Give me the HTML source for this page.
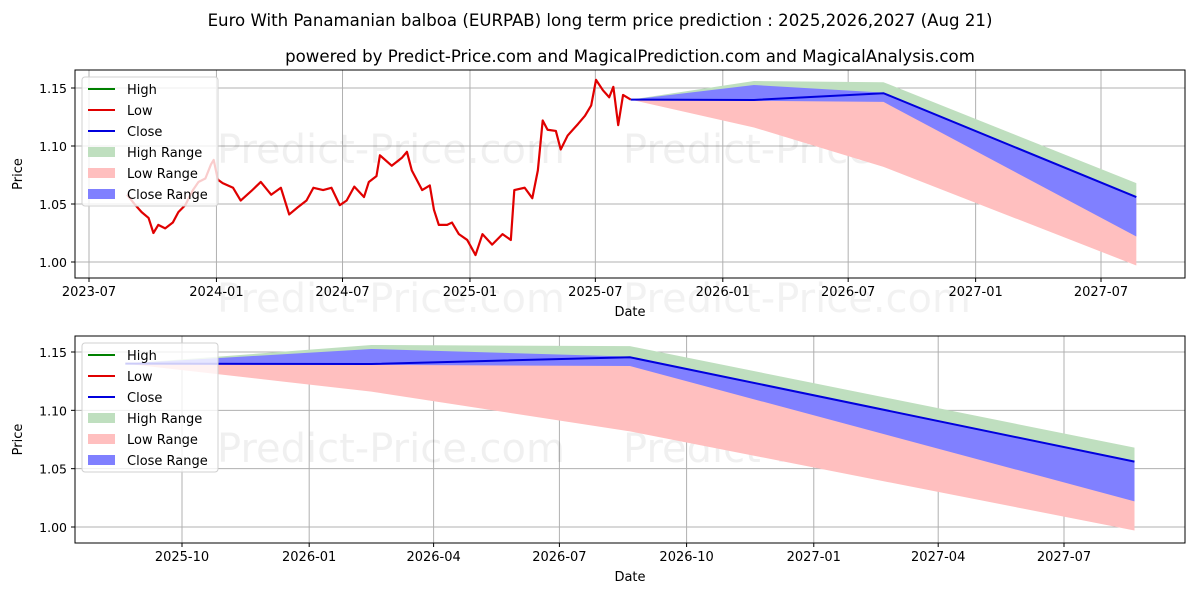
<!DOCTYPE html>
<html><head><meta charset="utf-8"><style>
html,body{margin:0;padding:0;background:#fff;}
svg{display:block;font-family:"DejaVu Sans","Liberation Sans",sans-serif;}
</style></head><body>
<svg id="chart" width="1200" height="600" viewBox="0 0 1200 600" xmlns="http://www.w3.org/2000/svg">
<text x="600" y="26" font-size="16.6" text-anchor="middle">Euro With Panamanian balboa (EURPAB) long term price prediction : 2025,2026,2027 (Aug 21)</text>
<text x="630" y="62" font-size="16.6" text-anchor="middle">powered by Predict-Price.com and MagicalPrediction.com and MagicalAnalysis.com</text>
<g id="top"></g>
<g id="bot"></g>
</svg>
<script>
const histDates = ["2023-08-25","2023-09-06","2023-09-15","2023-09-25","2023-10-02","2023-10-09","2023-10-19","2023-10-30","2023-11-07","2023-11-17","2023-11-28","2023-12-06","2023-12-16","2023-12-24","2023-12-28","2024-01-03","2024-01-10","2024-01-25","2024-02-05","2024-02-20","2024-03-05","2024-03-20","2024-04-03","2024-04-15","2024-04-27","2024-05-10","2024-05-20","2024-06-03","2024-06-15","2024-06-27","2024-07-07","2024-07-18","2024-08-01","2024-08-08","2024-08-19","2024-08-24","2024-09-10","2024-09-25","2024-10-02","2024-10-09","2024-10-24","2024-11-04","2024-11-10","2024-11-17","2024-11-29","2024-12-06","2024-12-16","2024-12-28","2025-01-09","2025-01-19","2025-02-02","2025-02-17","2025-03-01","2025-03-06","2025-03-21","2025-04-01","2025-04-09","2025-04-16","2025-04-23","2025-05-05","2025-05-12","2025-05-22","2025-06-06","2025-06-16","2025-06-25","2025-07-02","2025-07-12","2025-07-21","2025-07-27","2025-08-03","2025-08-10","2025-08-21"];
const histValues = [1.058,1.049,1.043,1.038,1.025,1.032,1.029,1.034,1.043,1.049,1.062,1.069,1.072,1.084,1.088,1.071,1.068,1.064,1.053,1.061,1.069,1.058,1.064,1.041,1.047,1.053,1.064,1.062,1.064,1.049,1.053,1.065,1.056,1.069,1.074,1.092,1.083,1.090,1.095,1.079,1.062,1.066,1.045,1.032,1.032,1.034,1.024,1.019,1.006,1.024,1.015,1.024,1.019,1.062,1.064,1.055,1.079,1.122,1.114,1.113,1.097,1.109,1.119,1.126,1.135,1.157,1.148,1.142,1.151,1.118,1.144,1.140];
const predDates = ["2025-08-21","2026-02-15","2026-08-21","2027-08-21"];
const predClose = [1.140,1.1397,1.1455,1.056];
const predHighUp = [1.140,1.156,1.155,1.068];
const predCloseUp = [1.140,1.1526,1.1460,1.056];
const predCloseLow = [1.140,1.1390,1.138,1.022];
const predLowLow = [1.140,1.116,1.082,0.997];
const yTicks = [1.00,1.05,1.10,1.15];
const topXTicks = ["2023-07","2024-01","2024-07","2025-01","2025-07","2026-01","2026-07","2027-01","2027-07"];
const botXTicks = ["2025-10","2026-01","2026-04","2026-07","2026-10","2027-01","2027-04","2027-07"];

const NS="http://www.w3.org/2000/svg";
const DAY=86400000;
function t(s){const p=s.split("-");return Date.UTC(+p[0],+p[1]-1,p[2]?+p[2]:1);}
function mk(parent,tag,attrs){const e=document.createElementNS(NS,tag);for(const k in attrs)e.setAttribute(k,attrs[k]);parent.appendChild(e);return e;}

function panel(g,cfg){
  const {L,R,T,B,x0d,x0px,pxPerDay,y0px,pxPerUnit,xticks,hist,wmY}=cfg;
  const X=d=>x0px+(t(d)-t(x0d))/DAY*pxPerDay;
  const Y=v=>y0px-(v-1.0)*pxPerUnit;
  const cid="clip"+T;
  const defs=mk(g,"defs",{});
  const cp=mk(defs,"clipPath",{id:cid});mk(cp,"rect",{x:L,y:T,width:R-L,height:B-T});
  yTicks.forEach(v=>{
    const l=mk(g,"line",{x1:L,x2:R,y1:Y(v),y2:Y(v),stroke:"#b0b0b0","stroke-width":1});
    
    
    mk(g,"line",{x1:L-4,x2:L,y1:Y(v),y2:Y(v),stroke:"#000"});
    const tx=mk(g,"text",{x:L-8,y:Y(v)+5,"font-size":12.5,"text-anchor":"end"});tx.textContent=v.toFixed(2);
    
    
  });
  xticks.forEach(s=>{
    const x=X(s+"-01");
    const l=mk(g,"line",{x1:x,x2:x,y1:T,y2:B,stroke:"#b0b0b0","stroke-width":1});
    
    
    mk(g,"line",{x1:x,x2:x,y1:B,y2:B+4,stroke:"#000"});
    const tx=mk(g,"text",{x:x,y:B+18,"font-size":13,"text-anchor":"middle"});tx.textContent=s;
    
    
  });
  [[391,wmY],[797,wmY]].forEach(p=>{
    const w=mk(g,"text",{x:p[0],y:p[1],"font-size":40,"text-anchor":"middle",fill:"rgba(0,0,0,0.06)"});w.textContent="Predict-Price.com";
    
    
  });
  const pg=mk(g,"g",{"clip-path":"url(#"+cid+")"});
  function band(up,low,fill,name){
    let pts=predDates.map((d,i)=>X(d)+","+Y(up[i]));
    pts=pts.concat(predDates.map((d,i)=>X(d)+","+Y(low[i])).reverse());
    const p=mk(pg,"polygon",{points:pts.join(" "),fill:fill});
    
    
  }
  band(predHighUp,predClose,"#bfdfbf","high-range-band");
  band(predClose,predLowLow,"#ffbfbf","low-range-band");
  band(predCloseUp,predCloseLow,"#8080ff","close-range-band");
  if(hist){
    const h=mk(pg,"polyline",{points:histDates.map((d,i)=>X(d)+","+Y(histValues[i])).join(" "),fill:"none",stroke:"#e00000","stroke-width":2.2,"stroke-linejoin":"round"});
    
    
  }
  const c=mk(pg,"polyline",{points:predDates.map((d,i)=>X(d)+","+Y(predClose[i])).join(" "),fill:"none",stroke:"#0000dd","stroke-width":2});
  
  
  const fr=mk(g,"rect",{x:L,y:T,width:R-L,height:B-T,fill:"none",stroke:"#000","stroke-width":1});
  
  
  const yl=mk(g,"text",{x:0,y:0,"font-size":13,"text-anchor":"middle",transform:`translate(${L-53},${(T+B)/2}) rotate(-90)`});yl.textContent="Price";
  
  
  const xl=mk(g,"text",{x:(L+R)/2,y:B+38,"font-size":13,"text-anchor":"middle"});xl.textContent="Date";
  
  
  const lg=mk(g,"g",{});
  
  
  mk(lg,"rect",{x:L+7,y:T+7,width:136,height:129,rx:3,fill:"rgba(255,255,255,0.8)",stroke:"#d0d0d0"});
  const items=[["High","line","#008000"],["Low","line","#e00000"],["Close","line","#0000dd"],["High Range","patch","#bfdfbf"],["Low Range","patch","#ffbfbf"],["Close Range","patch","#8080ff"]];
  items.forEach((it,i)=>{
    const y=T+19+i*21;
    if(it[1]=="line")mk(lg,"line",{x1:L+13,x2:L+40,y1:y,y2:y,stroke:it[2],"stroke-width":2});
    else mk(lg,"rect",{x:L+13,y:y-5,width:27,height:10,fill:it[2]});
    const tx=mk(lg,"text",{x:L+52,y:y+5,"font-size":13});tx.textContent=it[0];
    
    
  });
}
panel(document.getElementById("top"),{L:75,R:1185,T:70,B:278,x0d:"2023-07-01",x0px:89,pxPerDay:1012/1461,y0px:262,pxPerUnit:1160,xticks:topXTicks,hist:true,wmY:163});
panel(document.getElementById("bot"),{L:75,R:1185,T:336,B:543,x0d:"2025-10-01",x0px:182,pxPerDay:882/638,y0px:527,pxPerUnit:1166.7,xticks:botXTicks,hist:false,wmY:462});
const g2=document.getElementById("top");
[[391,312],[797,312]].forEach(p=>{
  const w=mk(g2,"text",{x:p[0],y:p[1],"font-size":40,"text-anchor":"middle",fill:"rgba(0,0,0,0.05)"});w.textContent="Predict-Price.com";
  
  
});
</script>
</body></html>
